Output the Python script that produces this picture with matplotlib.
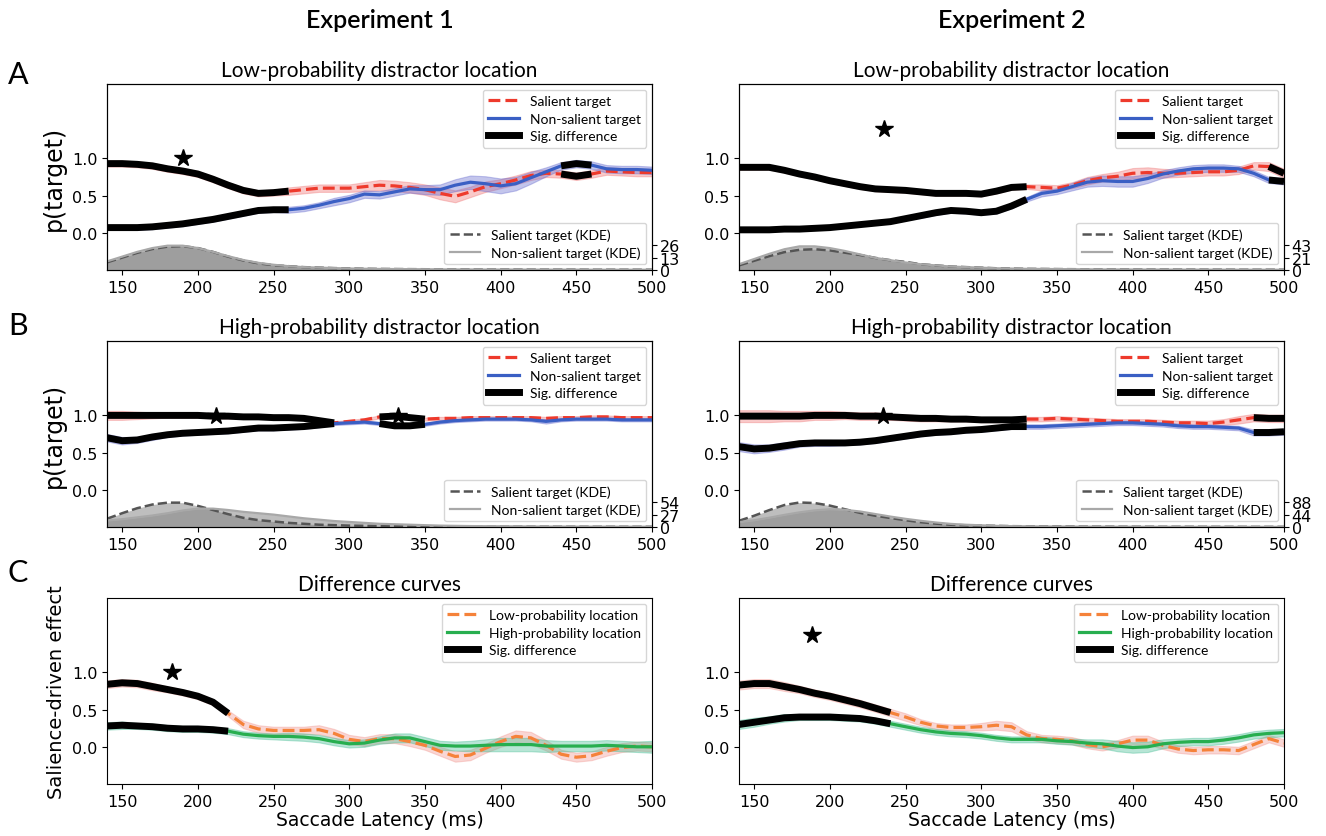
import numpy as np
import matplotlib.pyplot as plt

# saccade latency grid (ms)
lat = np.arange(140, 501, 10)

# ---- Experiment 1, low-probability distractor location
e1_low_sal = [.93, .93, .92, .90, .86, .83, .79, .72, .64, .57, .53, .54, .56, .58, .60, .60, .60, .62, .64,
              .63, .61, .58, .53, .49, .55, .62, .66, .71, .77, .80, .79, .76, .79, .83, .82, .81, .81]
e1_low_sal_err = [.04, .04, .04, .04, .04, .04, .04, .04, .04, .04, .04, .04, .05, .05, .05, .05, .05, .06, .07,
                  .07, .07, .07, .08, .08, .07, .07, .06, .06, .06, .05, .05, .05, .05, .05, .05, .05, .05]
e1_low_non = [.07, .07, .07, .08, .10, .12, .15, .18, .22, .26, .30, .31, .31, .33, .37, .42, .46, .52, .51,
              .55, .59, .58, .58, .64, .68, .66, .63, .66, .74, .82, .90, .93, .91, .86, .85, .85, .84]
e1_low_non_err = [.03, .03, .03, .03, .03, .03, .03, .03, .03, .03, .03, .03, .04, .04, .04, .05, .05, .05, .05,
                  .05, .05, .06, .07, .08, .09, .10, .10, .09, .08, .06, .05, .05, .05, .05, .05, .05, .05]
e1_low_kde_sal = [8, 13, 18, 22, 24.5, 25, 23, 19, 14, 10, 7, 5, 4, 3, 2.5, 2, 1.6, 1.3, 1.1,
                  1.0, .9, .8, .7, .6, .6, .5, .5, .5, .4, .4, .4, .4, .3, .3, .3, .3, .3]
e1_low_kde_non = [9, 14, 19, 23, 25.5, 25.5, 23, 19, 14.5, 10.5, 7.5, 5.5, 4, 3, 2.5, 2, 1.6, 1.3, 1.1,
                  1.0, .9, .8, .7, .6, .6, .5, .5, .5, .4, .4, .4, .4, .3, .3, .3, .3, .3]
e1_low_sig = [(140, 260), (440, 460)]

# ---- Experiment 2, low-probability distractor location
e2_low_sal = [.88, .88, .88, .84, .79, .75, .70, .66, .62, .59, .58, .57, .55, .53, .53, .53, .52, .56, .61,
              .62, .61, .60, .64, .70, .74, .76, .80, .81, .80, .80, .81, .82, .82, .84, .90, .89, .80]
e2_low_sal_err = [.03, .03, .03, .03, .03, .03, .03, .03, .03, .03, .03, .03, .03, .03, .03, .03, .03, .03, .03,
                  .03, .04, .04, .04, .05, .05, .06, .07, .07, .06, .05, .05, .05, .05, .05, .05, .06, .06]
e2_low_non = [.04, .04, .04, .05, .05, .06, .07, .09, .11, .13, .15, .19, .23, .27, .30, .29, .27, .29, .36,
              .45, .53, .56, .62, .68, .70, .69, .69, .73, .79, .83, .86, .87, .87, .86, .80, .71, .69]
e2_low_non_err = [.02, .02, .02, .02, .02, .02, .02, .02, .02, .02, .02, .02, .03, .03, .03, .03, .03, .03, .03,
                  .03, .04, .04, .05, .06, .07, .07, .07, .06, .05, .05, .05, .05, .05, .04, .04, .04, .04]
e2_low_kde_sal = [8, 16, 24, 31, 35, 36, 34, 30, 26, 21, 17, 14, 10, 8, 6, 5, 4, 3, 2.5,
                  2, 1.8, 1.6, 1.4, 1.2, 1, 1, .9, .8, .8, .7, .7, .6, .6, .5, .5, .5, .5]
e2_low_kde_non = [10, 19, 28, 36, 41, 41, 38, 33, 27, 21, 17, 13, 10, 8, 6, 5, 4, 3, 2.5,
                  2, 1.8, 1.6, 1.4, 1.2, 1, 1, .9, .8, .8, .7, .7, .6, .6, .5, .5, .5, .5]
e2_low_sig = [(140, 330), (490, 500)]

# ---- Experiment 1, high-probability distractor location
e1_high_sal = [1.0, 1.0, 1.0, 1.0, 1.0, 1.0, 1.0, .99, .99, .98, .98, .97, .97, .96, .93, .90, .92, .94, .98,
               .99, .97, .95, .96, .96, .97, .97, .97, .97, .97, .96, .97, .97, .98, .98, .97, .97, .97]
e1_high_sal_err = [.06, .06, .05, .04, .03, .03, .03, .03, .03, .02, .02, .02, .02, .02, .02, .02, .02, .02, .02,
                   .02, .02, .02, .02, .02, .02, .02, .02, .02, .02, .02, .02, .02, .02, .02, .02, .02, .02]
e1_high_non = [.70, .66, .67, .71, .74, .76, .77, .78, .79, .81, .83, .83, .84, .85, .87, .89, .90, .91, .89,
               .86, .86, .88, .91, .93, .94, .95, .95, .95, .94, .92, .94, .95, .95, .95, .94, .94, .94]
e1_high_non_err = [.05, .05, .04, .04, .03, .03, .03, .03, .03, .03, .03, .03, .03, .03, .03, .02, .02, .02, .02,
                   .02, .02, .02, .02, .02, .02, .02, .02, .02, .02, .03, .02, .02, .02, .02, .02, .02, .02]
e1_high_kde_sal = [18, 30, 41, 49, 53, 53, 46, 37, 28, 20, 15, 12, 9, 7, 5, 4, 3, 2.5, 2,
                   1.8, 1.6, 1.4, 1.2, 1, 1, .9, .8, .8, .7, .7, .6, .6, .5, .5, .5, .5, .5]
e1_high_kde_non = [14, 17, 21, 25, 30, 36, 40, 40, 37, 33, 30, 27, 23, 19, 16, 13, 11, 9, 7,
                   6, 5, 4, 3, 2.5, 2, 1.8, 1.6, 1.4, 1.2, 1, 1, .9, .8, .8, .7, .7, .6]
e1_high_sig = [(140, 290), (320, 350)]

# ---- Experiment 2, high-probability distractor location
e2_high_sal = [.99, .99, .99, .99, .99, 1.0, 1.0, 1.0, .99, .99, .98, .97, .96, .96, .95, .95, .94, .94, .94,
               .95, .95, .96, .95, .94, .93, .92, .92, .92, .91, .90, .90, .89, .91, .94, .97, .96, .96]
e2_high_sal_err = [.08, .08, .08, .07, .07, .06, .06, .05, .05, .05, .04, .04, .04, .04, .03, .03, .03, .03, .03,
                   .03, .03, .03, .03, .03, .03, .03, .03, .03, .03, .03, .03, .04, .04, .05, .05, .05, .05]
e2_high_non = [.58, .55, .56, .59, .62, .63, .63, .63, .64, .66, .69, .72, .75, .77, .78, .80, .81, .83, .85,
               .85, .85, .86, .87, .88, .89, .90, .90, .89, .88, .86, .85, .85, .84, .83, .77, .77, .78]
e2_high_non_err = [.06, .06, .05, .05, .04, .04, .04, .03, .03, .03, .03, .03, .03, .03, .03, .03, .03, .03, .03,
                   .03, .03, .03, .03, .03, .03, .03, .03, .03, .03, .03, .03, .03, .03, .03, .04, .04, .04]
e2_high_kde_sal = [22, 40, 60, 78, 87, 85, 76, 63, 50, 40, 32, 24, 17, 12, 8, 6, 5, 4, 3,
                   2.5, 2, 1.8, 1.6, 1.4, 1.2, 1, 1, .9, .8, .8, .7, .7, .6, .6, .5, .5, .5]
e2_high_kde_non = [17, 24, 33, 43, 52, 59, 63, 61, 55, 46, 37, 29, 22, 16, 11, 8, 6, 4, 3,
                   2.5, 2, 1.8, 1.6, 1.4, 1.2, 1, 1, .9, .8, .8, .7, .7, .6, .6, .5, .5, .5]
e2_high_sig = [(140, 330), (480, 500)]

# ---- difference curves
e1_diff_low = [.84, .86, .85, .81, .77, .73, .68, .60, .45, .30, .24, .22, .22, .22, .23, .18, .10, .07, .11,
               .11, .07, .02, -.06, -.13, -.11, -.02, .07, .14, .12, .02, -.10, -.14, -.12, -.06, -.01, .01, .0]
e1_diff_low_err = [.05, .05, .05, .05, .04, .04, .04, .04, .04, .05, .05, .05, .05, .05, .06, .06, .06, .06, .06,
                   .06, .06, .06, .06, .07, .07, .06, .07, .08, .08, .07, .06, .06, .06, .06, .06, .06, .06]
e1_diff_high = [.28, .29, .28, .27, .25, .24, .24, .23, .21, .17, .15, .14, .14, .13, .11, .07, .04, .05, .09,
                .12, .12, .07, .02, .01, .01, .02, .03, .03, .03, .01, .01, .01, .01, .02, .01, .0, .0]
e1_diff_high_err = [.05, .05, .04, .04, .04, .04, .04, .04, .04, .04, .04, .04, .05, .05, .05, .05, .05, .05, .05,
                    .06, .06, .06, .06, .06, .07, .08, .09, .09, .09, .08, .07, .07, .07, .07, .07, .07, .08]
e1_diff_sig = [(140, 220)]

e2_diff_low = [.83, .85, .85, .81, .77, .72, .68, .63, .58, .52, .46, .40, .33, .28, .26, .26, .27, .29, .27,
               .16, .11, .10, .08, .03, .0, .04, .09, .09, .02, -.03, -.05, -.04, -.04, -.05, .03, .11, .05]
e2_diff_low_err = [.06, .06, .06, .06, .05, .05, .05, .05, .05, .05, .05, .05, .04, .04, .04, .04, .05, .06, .06,
                   .05, .05, .05, .05, .05, .05, .05, .06, .06, .05, .05, .05, .05, .05, .05, .05, .05, .05]
e2_diff_high = [.30, .33, .36, .39, .40, .40, .40, .39, .38, .35, .31, .27, .23, .20, .18, .17, .15, .12, .10,
                .10, .10, .08, .07, .05, .04, .01, -.01, .0, .04, .06, .07, .07, .09, .12, .16, .18, .19]
e2_diff_high_err = [.06, .06, .05, .05, .04, .04, .04, .04, .04, .04, .04, .04, .04, .04, .04, .04, .04, .04, .04,
                    .04, .04, .04, .04, .05, .06, .07, .07, .07, .06, .05, .05, .05, .05, .05, .05, .05, .05]
e2_diff_sig = [(140, 240)]

# stars (latency, y) and KDE axis maxima
stars = {'A1': [(190, 1.0)], 'A2': [(236, 1.39)], 'B1': [(212, 0.99), (332, 0.99)],
         'B2': [(235, 0.99)], 'C1': [(183, 1.0)], 'C2': [(188, 1.5)]}
kde_max = {'A1': 26, 'A2': 43, 'B1': 54, 'B2': 88}

RED = '#ee3a2c'
BLUE = '#3a5fc4'
ORANGE = '#f5823a'
GREEN = '#27ae4f'
TFONT = 'Lato'
TICK_FS = 11.5

fig = plt.figure(figsize=(13.26, 8.37), dpi=100)
W, H = 1326., 837.
col_x = [107 / W, 739 / W]
row_y = [1 - 271 / H, 1 - 528 / H, 1 - 785 / H]
aw, ah = 545 / W, 186 / H


def sig_lines(ax, ys, segs):
    ys = np.asarray(ys)
    for s, e in segs:
        m = (lat >= s) & (lat <= e)
        ax.plot(lat[m], ys[m], color='k', lw=5, solid_capstyle='butt', zorder=5)


def panel(ax, y1, e1, y2, e2, segs, key, title, kind):
    y1, e1, y2, e2 = map(np.asarray, (y1, e1, y2, e2))
    if kind == 'target':
        c1, c2, b1, b2 = RED, BLUE, '#f07a7a', '#6a6fd0'
        labs = ['Salient target', 'Non-salient target']
    else:
        c1, c2, b1, b2 = ORANGE, GREEN, '#f29a94', '#4cbf98'
        labs = ['Low-probability location', 'High-probability location']
    ax.fill_between(lat, y1 - e1, y1 + e1, color=b1, alpha=0.4, lw=0.8, zorder=1)
    ax.fill_between(lat, y2 - e2, y2 + e2, color=b2, alpha=0.4, lw=0.8, zorder=1)
    l1, = ax.plot(lat, y1, '--', color=c1, lw=2.3, label=labs[0], zorder=3)
    l2, = ax.plot(lat, y2, '-', color=c2, lw=2.3, label=labs[1], zorder=3)
    sig_lines(ax, y1, segs)
    sig_lines(ax, y2, segs)
    l3, = ax.plot([], [], color='k', lw=5, label='Sig. difference')
    for sx, sy in stars[key]:
        ax.plot(sx, sy, marker='*', color='k', ms=13, zorder=6)
    ax.set_xlim(140, 500)
    ax.set_ylim(-0.5, 2.0)
    ax.set_yticks([0, 0.5, 1.0])
    ax.set_xticks(range(150, 501, 50))
    ax.tick_params(labelsize=TICK_FS)
    ax.set_title(title, fontsize=15, family=TFONT, pad=6)
    ax.legend(handles=[l1, l2, l3], loc='upper right', prop={'family': TFONT, 'size': 10},
              handlelength=2.2, borderaxespad=0.4, labelspacing=0.4)


def kde(ax, ks, kn, key):
    tw = ax.twinx()
    m = kde_max[key]
    tw.fill_between(lat, 0, ks, color='#7f7f7f', alpha=0.5, lw=0)
    tw.fill_between(lat, 0, kn, color='#7f7f7f', alpha=0.5, lw=0)
    tw.plot(lat, ks, '--', color='#555555', lw=1.8, label='Salient target (KDE)')
    tw.plot(lat, kn, '-', color='#a8a8a8', lw=1.6, label='Non-salient target (KDE)')
    tw.set_ylim(0, m * 7.5)
    tw.set_yticks([0, m / 2, m])
    tw.set_yticklabels(['0', str(int(m / 2)), str(m)])
    tw.tick_params(labelsize=TICK_FS, pad=2)
    tw.legend(loc='lower right', prop={'family': TFONT, 'size': 10}, borderaxespad=0.4,
              handlelength=2.2, labelspacing=0.4)


# row A
ax = fig.add_axes([col_x[0], row_y[0], aw, ah])
panel(ax, e1_low_sal, e1_low_sal_err, e1_low_non, e1_low_non_err, e1_low_sig, 'A1',
      'Low-probability distractor location', 'target')
ax.set_ylabel('p(target)', fontsize=17)
kde(ax, e1_low_kde_sal, e1_low_kde_non, 'A1')

ax = fig.add_axes([col_x[1], row_y[0], aw, ah])
panel(ax, e2_low_sal, e2_low_sal_err, e2_low_non, e2_low_non_err, e2_low_sig, 'A2',
      'Low-probability distractor location', 'target')
kde(ax, e2_low_kde_sal, e2_low_kde_non, 'A2')

# row B
ax = fig.add_axes([col_x[0], row_y[1], aw, ah])
panel(ax, e1_high_sal, e1_high_sal_err, e1_high_non, e1_high_non_err, e1_high_sig, 'B1',
      'High-probability distractor location', 'target')
ax.set_ylabel('p(target)', fontsize=17)
kde(ax, e1_high_kde_sal, e1_high_kde_non, 'B1')

ax = fig.add_axes([col_x[1], row_y[1], aw, ah])
panel(ax, e2_high_sal, e2_high_sal_err, e2_high_non, e2_high_non_err, e2_high_sig, 'B2',
      'High-probability distractor location', 'target')
kde(ax, e2_high_kde_sal, e2_high_kde_non, 'B2')

# row C
ax = fig.add_axes([col_x[0], row_y[2], aw, ah])
panel(ax, e1_diff_low, e1_diff_low_err, e1_diff_high, e1_diff_high_err, e1_diff_sig, 'C1',
      'Difference curves', 'diff')
ax.set_ylabel('Salience-driven effect', fontsize=14)
ax.set_xlabel('Saccade Latency (ms)', fontsize=13.5, labelpad=1)

ax = fig.add_axes([col_x[1], row_y[2], aw, ah])
panel(ax, e2_diff_low, e2_diff_low_err, e2_diff_high, e2_diff_high_err, e2_diff_sig, 'C2',
      'Difference curves', 'diff')
ax.set_xlabel('Saccade Latency (ms)', fontsize=13.5, labelpad=1)

# headers and panel letters
fig.text(col_x[0] + aw / 2, 1 - 20 / H, 'Experiment 1', ha='center', va='center',
         fontsize=18, family=TFONT, weight='semibold')
fig.text(col_x[1] + aw / 2, 1 - 20 / H, 'Experiment 2', ha='center', va='center',
         fontsize=18, family=TFONT, weight='semibold')
for letter, yy in [('A', 75), ('B', 326), ('C', 573)]:
    fig.text(18 / W, 1 - yy / H, letter, ha='center', va='center', fontsize=22, family=TFONT)

fig.savefig('out.png', dpi=100)
